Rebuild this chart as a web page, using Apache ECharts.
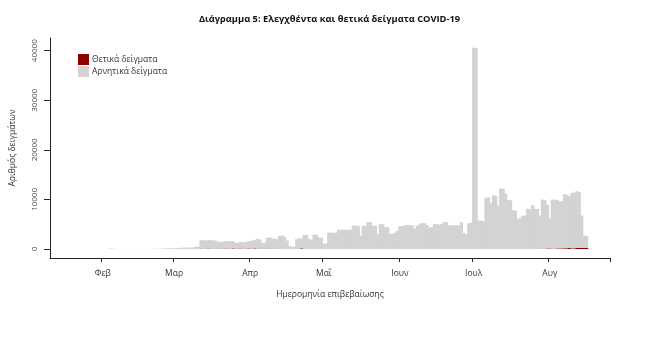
<!DOCTYPE html>
<html>
<head>
<meta charset="utf-8">
<script src="https://cdn.jsdelivr.net/npm/echarts@6/dist/echarts.min.js"></script>
<style>
html,body{margin:0;padding:0;background:#fff;}
#c{width:659px;height:356px;}
</style>
</head>
<body>
<div id="c"></div>
<script>
// Negative samples per day (Feb 1 .. Aug 16, 2020)
const negFeb = [0,0,40,90,60,30,0,0,10,0,10,0,10,0,0,10,0,10,0,10,20,30,40,50,60,90,120,150,140];
const negMar = [160,180,200,250,230,280,260,300,350,420,500,1700,1750,1650,1700,1750,1700,1650,1400,1350,1450,1500,1550,1500,1450,1150,1200,1350,1300,1350,1400];
const negApr = [1500,1700,1700,2000,1900,1150,1200,2200,2300,2100,2000,1900,2600,2700,2500,1700,600,400,450,2000,2100,2000,2800,2800,2000,1900,2900,2900,2300,2300];
const negMay = [1050,1100,3300,3300,3200,3300,3900,3800,3900,3800,3900,3900,4700,4700,4600,2700,4700,4600,5400,5400,4700,4700,3000,5000,5000,4400,4400,3000,3100,3300,3700];
const negJun = [4600,4600,4800,4800,4800,4700,4100,4700,5000,5200,5200,4800,4300,4400,5000,5000,4900,5000,5400,5400,4700,4800,4700,4800,4700,5400,3200,3000,5200,5300];
const negJul = [40600,40500,5700,5700,5600,10300,10400,9200,10800,10700,8800,12200,12100,11200,9900,9800,7800,7700,6100,6200,6700,6700,8100,8000,8800,8100,8000,6700,9900,9800,8800];
const negAug = [6100,9900,9900,9800,9500,9500,10900,10800,10500,11200,11200,11400,11300,6500,2500,2400];

// Positive samples per day (Feb 1 .. Aug 16, 2020)
const posFeb = [0,0,0,0,0,0,0,0,0,0,0,0,0,0,0,0,0,0,0,0,0,0,0,0,0,1,2,1,0];
const posMar = [0,0,0,3,9,14,0,34,7,16,10,89,38,38,103,21,56,31,46,77,35,94,71,48,126,78,71,95,49,61,102];
const posApr = [97,50,129,60,62,20,77,41,56,20,62,51,25,22,25,20,22,29,13,12,79,156,25,14,7,8,10,4,15,5];
const posMay = [12,8,14,10,9,15,5,6,11,10,7,10,16,9,13,10,4,12,17,10,5,7,12,7,3,5,8,15,6,12,17];
const posJun = [9,6,6,15,40,12,21,17,5,8,11,15,17,5,13,19,20,15,17,21,7,11,12,12,11,12,18,11,11,10];
const posJul = [11,13,17,18,19,27,21,26,26,37,31,10,23,15,18,20,19,27,21,26,25,34,29,34,41,26,41,31,57,51,110];
const posAug = [110,75,55,121,121,124,153,151,203,126,150,262,204,250,230,217];

const monthLabels = ['Ιαν','Φεβ','Μαρ','Απρ','Μαΐ','Ιουν','Ιουλ','Αυγ'];
const yTicks = [0,10000,20000,30000,40000];

// Axis range: 2020-01-11 .. 2020-08-25 (one category per day)
const padBefore = 21, padAfter = 9;
const categories = [];
const d0 = new Date(Date.UTC(2020,0,11));
for (let i = 0; i < padBefore + 198 + padAfter; i++) {
  const d = new Date(d0.getTime() + i*86400000);
  categories.push(d.toISOString().slice(0,10));
}
const nulls = n => new Array(n).fill(null);
const neg = [].concat(nulls(padBefore), negFeb, negMar, negApr, negMay, negJun, negJul, negAug, nulls(padAfter));
const pos = [].concat(nulls(padBefore), posFeb, posMar, posApr, posMay, posJun, posJul, posAug, nulls(padAfter));

const isMonthStart = (idx) => categories[idx] && categories[idx].slice(8,10) === '01';
const FONT = 'Open Sans';

const chart = echarts.init(document.getElementById('c'), null, {renderer:'canvas'});
chart.setOption({
  animation:false,
  backgroundColor:'#fff',
  title:{
    text:'Διάγραμμα 5: Ελεγχθέντα και θετικά δείγματα COVID-19',
    left:'center', top:10,
    textStyle:{fontFamily:FONT, fontSize:9.3, fontWeight:'bold', color:'#111'}
  },
  legend:{
    orient:'vertical', left:78, top:54, padding:0,
    itemWidth:11, itemHeight:11, itemGap:1,
    icon:'rect',
    textStyle:{fontFamily:FONT, fontSize:8.5, color:'#333', padding:[0,0,0,-2]},
    data:['Θετικά δείγματα','Αρνητικά δείγματα']
  },
  grid:{left:48, right:49, top:38, bottom:98, containLabel:false},
  xAxis:{
    type:'category',
    data:categories,
    boundaryGap:true,
    axisLine:{onZero:false, lineStyle:{color:'#222', width:1}},
    axisTick:{show:true, length:4, interval:(i)=>isMonthStart(i), lineStyle:{color:'#222'}},
    axisLabel:{
      interval:(i)=>isMonthStart(i),
      formatter:(v)=>monthLabels[parseInt(v.slice(5,7),10)-1],
      fontFamily:FONT, fontSize:8.5, color:'#333', margin:11
    },
    splitLine:{show:false},
    name:'Ημερομηνία επιβεβαίωσης',
    nameLocation:'middle', nameGap:32,
    nameTextStyle:{fontFamily:FONT, fontSize:8.5, color:'#333'}
  },
  yAxis:{
    type:'value',
    min:-1815, max:42560,
    axisLine:{show:true, lineStyle:{color:'#222', width:1}},
    axisTick:{show:true, length:6, customValues:yTicks, lineStyle:{color:'#222'}},
    axisLabel:{customValues:yTicks, formatter:(v)=>String(v), rotate:90, fontFamily:FONT, fontSize:8, color:'#444', margin:11},
    splitLine:{show:false},
    name:'Αριθμός δειγμάτων',
    nameLocation:'middle', nameGap:33,
    nameTextStyle:{fontFamily:FONT, fontSize:8.5, color:'#333'}
  },
  series:[
    {name:'Θετικά δείγματα', type:'bar', stack:'s', data:pos, barWidth:3.2,
     itemStyle:{color:'#8B0000'}},
    {name:'Αρνητικά δείγματα', type:'bar', stack:'s', data:neg, barWidth:3.2,
     itemStyle:{color:'#D3D3D3'}}
  ]
});
</script>
</body>
</html>
